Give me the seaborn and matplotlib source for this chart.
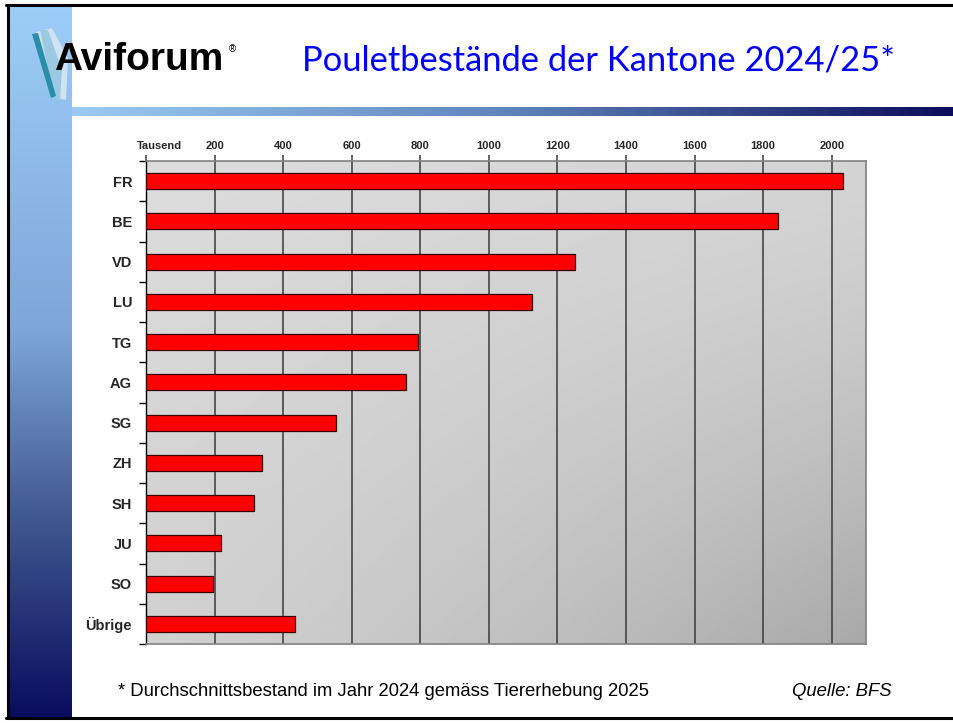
import numpy as np
import pandas as pd
import matplotlib
matplotlib.use("Agg")
import matplotlib.pyplot as plt
from matplotlib.colors import LinearSegmentedColormap
from matplotlib.patches import Polygon
from matplotlib.lines import Line2D
import seaborn as sns

# Poultry stock per canton, thousands of animals
cantons = ["FR", "BE", "VD", "LU", "TG", "AG", "SG", "ZH", "SH", "JU", "SO", "Übrige"]
stock = [2033, 1842, 1251, 1125, 792, 757, 554, 338, 314, 218, 195, 435]
x_ticks = [0, 200, 400, 600, 800, 1000, 1200, 1400, 1600, 1800, 2000]
x_ticklabels = ["", "200", "400", "600", "800", "1000", "1200", "1400", "1600", "1800", "2000"]

title = "Pouletbestände der Kantone 2024/25*"
footnote = "* Durchschnittsbestand im Jahr 2024 gemäss Tiererhebung 2025"
source = "Quelle: BFS"

df = pd.DataFrame({"Kanton": cantons, "Bestand": stock})

sns.set_style("white")
plt.rcParams["font.family"] = ["Liberation Sans", "DejaVu Sans"]

W, H = 954, 723
fig = plt.figure(figsize=(W / 100, H / 100), dpi=100)


def fx(px):
    return px / W


def fy(py):
    return 1 - py / H


# --- slide decoration -------------------------------------------------------
# vertical blue band on the left
band_cmap = LinearSegmentedColormap.from_list(
    "band", [(0.0, "#9dcdf8"), (0.456, "#7ea6d8"), (0.72, "#405890"), (1.0, "#0a0c5e")])
band = fig.add_axes([fx(8), fy(718), fx(72) - fx(8), fy(5) - fy(718)], zorder=0)
band.imshow(np.linspace(0, 1, 256)[:, None], cmap=band_cmap, aspect="auto",
            extent=[0, 1, 0, 1], origin="upper")
band.set_axis_off()

# horizontal rule under the header
rule_cmap = LinearSegmentedColormap.from_list(
    "rule", [(0.0, "#9ccaf4"), (0.5, "#5f84ba"), (1.0, "#0c0c5a")])
rule = fig.add_axes([fx(72), fy(116), 1 - fx(72), fy(107) - fy(116)], zorder=0)
rule.imshow(np.linspace(0, 1, 256)[None, :], cmap=rule_cmap, aspect="auto",
            extent=[0, 1, 0, 1])
rule.set_axis_off()

# slide frame
for xs, ys in [((fx(6), 1.0), (fy(5), fy(5))),
               ((fx(8), fx(8)), (fy(5), fy(718))),
               ((fx(6), 1.0), (fy(718), fy(718)))]:
    fig.add_artist(Line2D(xs, ys, transform=fig.transFigure, color="black",
                          linewidth=2.2, zorder=5))

# feather mark of the logo
for pts, col in [
    ([(36, 32), (52, 28), (68, 58), (66, 100), (56, 98)], "#cfe3f2"),
    ([(40, 30), (48, 30), (62, 70), (60, 100), (54, 98)], "#9cc9e2"),
    ([(32, 34), (38, 33), (56, 96), (51, 98)], "#2a8ea8"),
]:
    fig.add_artist(Polygon([(fx(a), fy(b)) for a, b in pts], closed=True,
                           transform=fig.transFigure, facecolor=col,
                           edgecolor="none", zorder=3))

fig.text(fx(54), fy(60), "Aviforum", fontsize=28, fontweight="bold",
         color="black", ha="left", va="center", zorder=4)
fig.text(fx(232), fy(49), "®", fontsize=7, color="black", ha="center",
         va="center", zorder=4)

fig.text(fx(598), fy(61), title, fontsize=24.8, color="#0000ff",
         family=["Lato", "DejaVu Sans"], fontweight="normal",
         ha="center", va="center")

fig.text(fx(118), fy(692), footnote, fontsize=13.3, color="black",
         ha="left", va="center")
fig.text(fx(892), fy(692), source, fontsize=13.3, color="black",
         style="italic", ha="right", va="center")

# --- chart -------------------------------------------------------------------
ax = fig.add_axes([fx(146), fy(644), fx(866) - fx(146), fy(161) - fy(644)], zorder=2)

sns.barplot(data=df, x="Bestand", y="Kanton", orient="h", color="#ff0000",
            saturation=1, width=0.4, edgecolor="#3a0000", linewidth=0.9,
            ax=ax, zorder=3)

# shaded plot background
gx, gy = np.meshgrid(np.linspace(0, 1, 300), np.linspace(0, 1, 300))
shade = 220 - 12 * gy - 8 * gx - 32 * (gx * gy) ** 1.5
ax.imshow(shade, cmap="gray", vmin=0, vmax=255, aspect="auto",
          extent=[0, 2100, len(cantons) - 0.5, -0.5], origin="upper", zorder=0)

ax.set_xlim(0, 2100)
ax.set_ylim(len(cantons) - 0.5, -0.5)

ax.xaxis.tick_top()
ax.set_xticks(x_ticks)
ax.set_xticklabels(x_ticklabels, fontsize=8, fontweight="bold")
ax.tick_params(axis="x", which="major", length=4, width=1.1, color="#3a3a3a",
               pad=3, top=True, bottom=False)
ax.annotate("Tausend", xy=(38, 1), xycoords=("data", "axes fraction"),
            xytext=(0, 7), textcoords="offset points", fontsize=8,
            fontweight="bold", ha="center", va="bottom")
ax.grid(axis="x", color="#3a3a3a", linewidth=1.1, zorder=1)
ax.set_axisbelow(True)

ax.set_yticks(range(len(cantons)))
ax.set_yticklabels(cantons, fontsize=10.5, fontweight="bold")
ax.set_yticks(np.arange(-0.5, len(cantons), 1.0), minor=True)
ax.tick_params(axis="y", which="major", length=0, pad=10)
ax.tick_params(axis="y", which="minor", length=5, width=1, color="black", left=True)

ax.set_xlabel("")
ax.set_ylabel("")

for name, sp in ax.spines.items():
    sp.set_visible(True)
    sp.set_color("#808080")
    sp.set_linewidth(1.2)
ax.spines["left"].set_color("black")
ax.spines["left"].set_linewidth(1)

fig.savefig("out.png", dpi=100)
